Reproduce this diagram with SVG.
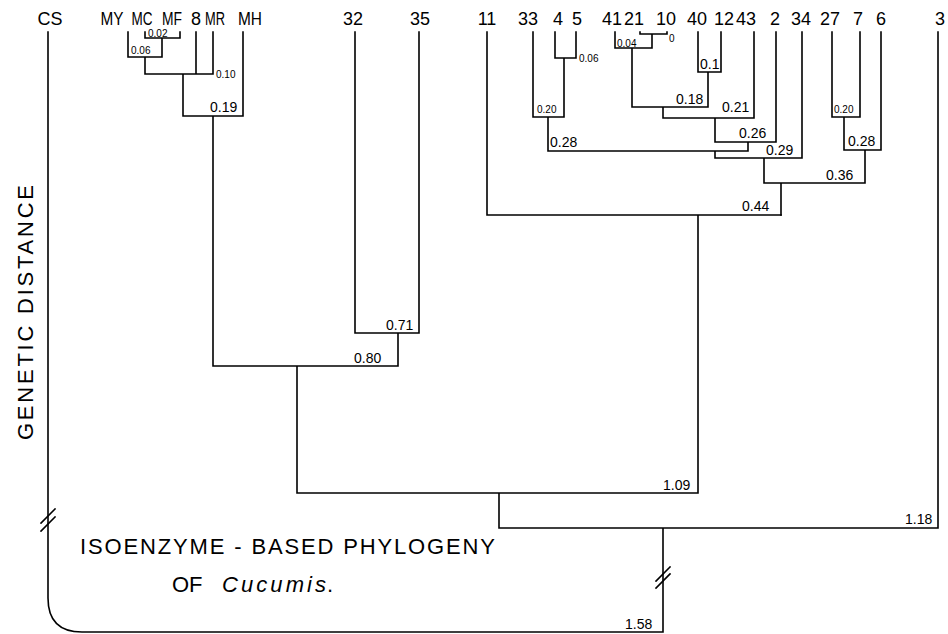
<svg xmlns="http://www.w3.org/2000/svg" width="948" height="634" viewBox="0 0 948 634">
<style>
.ln{fill:none;stroke:#000;stroke-width:1.6;stroke-linecap:square}
.lf{font-family:"Liberation Sans",Arial,sans-serif;font-size:18px;fill:#000;text-anchor:middle}
.d{font-family:"Liberation Sans",Arial,sans-serif;font-size:14px;fill:#000}
.ds{font-family:"Liberation Sans",Arial,sans-serif;font-size:10px;fill:#000}
.t{font-family:"Liberation Sans",Arial,sans-serif;font-size:22px;fill:#000}
</style>
<rect width="948" height="634" fill="#fff"/>
<g id="leaves">
<g id="n-CS"><text class="lf" x="50" y="25">CS</text></g>
<g id="n-MY"><text class="lf" x="112" y="25" textLength="23" lengthAdjust="spacingAndGlyphs">MY</text></g>
<g id="n-MC"><text class="lf" x="142" y="25" textLength="21" lengthAdjust="spacingAndGlyphs">MC</text></g>
<g id="n-MF"><text class="lf" x="172" y="25" textLength="20" lengthAdjust="spacingAndGlyphs">MF</text></g>
<g id="n-8"><text class="lf" x="196" y="25">8</text></g>
<g id="n-MR"><text class="lf" x="215" y="25" textLength="20" lengthAdjust="spacingAndGlyphs">MR</text></g>
<g id="n-MH"><text class="lf" x="250" y="25" textLength="24" lengthAdjust="spacingAndGlyphs">MH</text></g>
<g id="n-32"><text class="lf" x="353" y="25">32</text></g>
<g id="n-35"><text class="lf" x="420" y="25">35</text></g>
<g id="n-11"><text class="lf" x="487" y="25">11</text></g>
<g id="n-33"><text class="lf" x="528" y="25">33</text></g>
<g id="n-4"><text class="lf" x="558" y="25">4</text></g>
<g id="n-5"><text class="lf" x="577" y="25">5</text></g>
<g id="n-41"><text class="lf" x="612" y="25">41</text></g>
<g id="n-21"><text class="lf" x="634" y="25">21</text></g>
<g id="n-10"><text class="lf" x="666" y="25">10</text></g>
<g id="n-40"><text class="lf" x="697" y="25">40</text></g>
<g id="n-12"><text class="lf" x="724" y="25">12</text></g>
<g id="n-43"><text class="lf" x="746" y="25">43</text></g>
<g id="n-2"><text class="lf" x="775" y="25">2</text></g>
<g id="n-34"><text class="lf" x="801" y="25">34</text></g>
<g id="n-27"><text class="lf" x="830" y="25">27</text></g>
<g id="n-7"><text class="lf" x="858" y="25">7</text></g>
<g id="n-6"><text class="lf" x="881" y="25">6</text></g>
<g id="n-3"><text class="lf" x="940" y="25">3</text></g>
</g>
<g id="connectors">
<path class="ln" d="M128 32V57H162V38 M145 32V38H180V32 M145 57V74H213V32 M196 32V74 M183 74V116H243V32 M213 116V366H398 M355 32V333H419V32 M398 333V366 M297 366V493H698V215 M487 32V215H781 M499 493V528H938V32 M663 528V632H82 Q48 632 48 598V32"/>
<path class="ln" d="M555 32V58H576V32 M564 58V117H533V32 M548 117V151H748V142 M615 32V48H652V34 M640 32V34H667V32 M632 48V107H708V72 M698 32V72H721V32 M663 107V118H754V32 M715 118V142H776V32 M715 151V158H802V32 M764 158V183H865V150 M781 183V215 M832 32V117H860V32 M844 117V150H881V32"/>
<path class="ln" d="M41 523L55 509 M41 531L55 517 M656 581L670 567 M656 588L670 574"/>
</g>
<g id="distances">
<text class="ds" x="148" y="37" font-size="9">0.02</text>
<text class="ds" x="131" y="54">0.06</text>
<text class="ds" x="216" y="78" font-size="11">0.10</text>
<text class="d" x="210" y="112">0.19</text>
<text class="d" x="386" y="330">0.71</text>
<text class="d" x="354" y="363">0.80</text>
<text class="d" x="663" y="490" font-size="12.5">1.09</text>
<text class="d" x="905" y="524" font-size="12.5">1.18</text>
<text class="d" x="625" y="629" font-size="12.5">1.58</text>
<text class="ds" x="537" y="113">0.20</text>
<text class="ds" x="579" y="62" font-size="11">0.06</text>
<text class="ds" x="617" y="47">0.04</text>
<text class="ds" x="669" y="42" font-size="11">0</text>
<text class="d" x="700" y="69" font-size="12">0.1</text>
<text class="d" x="676" y="104">0.18</text>
<text class="d" x="722" y="112">0.21</text>
<text class="d" x="739" y="138">0.26</text>
<text class="d" x="550" y="147" font-size="15">0.28</text>
<text class="d" x="766" y="155" font-size="15">0.29</text>
<text class="d" x="826" y="180" font-size="15">0.36</text>
<text class="ds" x="834" y="113">0.20</text>
<text class="d" x="848" y="146">0.28</text>
<text class="d" x="742" y="211">0.44</text>
</g>
<g id="titles">
<text class="t" transform="translate(33 440) rotate(-90)" textLength="255" lengthAdjust="spacing" font-size="20">GENETIC DISTANCE</text>
<text class="t" x="80" y="554" textLength="415" lengthAdjust="spacing">ISOENZYME - BASED PHYLOGENY</text>
<text class="t" x="172" y="592">OF</text>
<text class="t" x="222" y="592" font-style="italic" textLength="104" lengthAdjust="spacing">Cucumis</text>
<text class="t" x="327" y="592">.</text>
</g>
</svg>
